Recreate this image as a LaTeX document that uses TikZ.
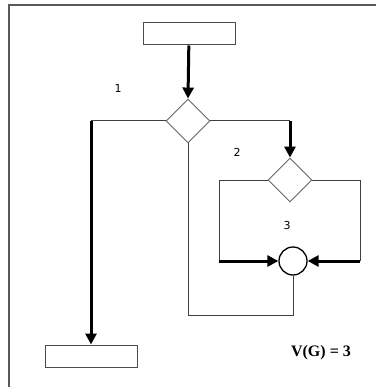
\documentclass[tikz,border=0pt]{standalone}
\usepackage{fontspec}
\setmainfont{Liberation Serif}
\newfontfamily\labelfont{DejaVu Sans}
\usetikzlibrary{arrows.meta,shapes.geometric}

\begin{document}
\begin{tikzpicture}[
            x=1pt, y=-1pt,
            link/.style={draw=black!75, line width=1pt},
            flow/.style={draw=black, line width=3pt, -{Triangle[length=11pt,width=11pt]}},
            block/.style={draw=black!70, line width=1pt, minimum width=92pt, minimum height=22pt, inner sep=0pt},
            decision/.style={diamond, draw=black!60, line width=0.9pt, minimum width=44pt, minimum height=44pt, inner sep=0pt},
            junction/.style={circle, draw=black, line width=1.3pt, minimum size=28pt, inner sep=0pt},
            num/.style={font=\labelfont\fontsize{11}{13}\selectfont}
        ]
        \useasboundingbox (0,0) rectangle (376,387);
        \draw[draw=black!65, line width=1.5pt] (376,5) -- (9,5) -- (9,387);

        \node[block] (start) at (189,34) {};
        \node[decision] (d1) at (188,121) {};
        \node[block] (stop) at (91,356) {};
        \node[decision] (d2) at (290,180) {};
        \node[junction] (join) at (293,261) {};

        \coordinate (c1) at (91,121);
        \coordinate (c2) at (290,121);
        \coordinate (c3) at (219,180);
        \coordinate (c4) at (219,261);
        \coordinate (c5) at (360,180);
        \coordinate (c6) at (360,261);
        \coordinate (c7) at (293,315);
        \coordinate (c8) at (188,315);

        \draw[flow] (start) -- (d1.north);
        \draw[link] (d1.west) -- (c1);
        \draw[flow] (c1) -- (stop.north);
        \draw[link] (d1.east) -- (c2);
        \draw[flow] (c2) -- (d2.north);
        \draw[link] (d2.west) -- (c3) -- (c4);
        \draw[flow] (c4) -- (join.west);
        \draw[link] (d2.east) -- (c5) -- (c6);
        \draw[flow] (c6) -- (join.east);
        \draw[link] (join.south) -- (c7) -- (c8) -- (d1.south);

        \node[num] (n1) at (118,88) {1};
        \node[num] (n2) at (237,152) {2};
        \node[num] (n3) at (287,225) {3};
        \node[font=\bfseries\fontsize{16}{18}\selectfont] (vg) at (321,353) {V(G) = 3};
    \end{tikzpicture}
\end{document}
